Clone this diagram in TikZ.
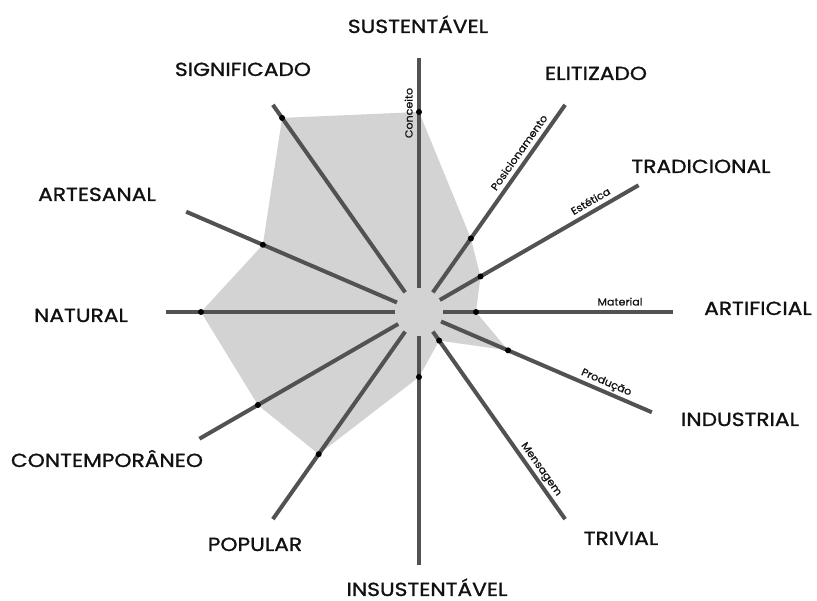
\documentclass[tikz,border=0pt]{standalone}
\usepackage{fontspec}
\setmainfont{Poppins}[FakeStretch=1.15,FakeBold=1.2]
\newfontfamily\smallfam{Poppins}[FakeStretch=1.08,FakeBold=0.8]
\usetikzlibrary{calc}
\definecolor{axisgray}{HTML}{525252}
\definecolor{areagray}{HTML}{D3D3D3}
\definecolor{txt}{HTML}{111111}
\begin{document}
\begin{tikzpicture}[x=1bp,y=1bp,
  axis/.style={draw=axisgray,line width=4bp},
  dot/.style={circle,fill=black,inner sep=0pt,minimum size=6bp},
  pole/.style={font=\fontsize{19}{19}\selectfont,text=txt,anchor=base,inner sep=0pt},
  dimlabel/.style={font=\smallfam\fontsize{10.3}{10.3}\selectfont,text=txt,anchor=base,inner sep=0pt}]
\useasboundingbox (0,0) rectangle (817,601);
\begin{scope}[shift={(419,289)}]
\foreach \n/\a in {S/90, E/54.8, T/30, A/0, I/-23.3, V/-54.8, N/-90, P/-125.2, C/-150, L/180, R/156.7, G/125.2}{
  \coordinate (in\n) at (\a:24);
  \coordinate (out\n) at (\a:253.5);
}
\foreach \n/\a/\r in {S/90/200, E/54.8/90, T/30/71, A/0/57, I/-23.3/97, V/-54.8/35, N/-90/65, P/-125.2/174, C/-150/186, L/180/218, R/156.7/170, G/125.2/237.5}{
  \coordinate (v\n) at (\a:\r);
}
\foreach \n/\a/\d in {S/90/199, E/54.8/188, T/30/204, A/0/201, I/-23.3/200, V/-54.8/199}{
  \coordinate (lab\n) at ($(\a:\d)+(\a+90:6.5)$);
}
\end{scope}
\fill[areagray] (vS) -- (vE) -- (vT) -- (vA) -- (vI) -- (vV) -- (vN) -- (vP) -- (vC) -- (vL) -- (vR) -- (vG) -- cycle;
\foreach \n in {S,E,T,A,I,V,N,P,C,L,R,G}{
  \draw[axis] (in\n) -- (out\n);
}
\foreach \n in {S,E,T,A,I,V,N,P,C,L,R,G}{
  \node[dot] (d\n) at (v\n) {};
}
\node[dimlabel,rotate=90] (tS) at (labS) {Conceito};
\node[dimlabel,rotate=54.8] (tE) at (labE) {Posicionamento};
\node[dimlabel,rotate=30] (tT) at (labT) {Estética};
\node[dimlabel] (tA) at (labA) {Material};
\node[dimlabel,rotate=-23.3] (tI) at (labI) {Produção};
\node[dimlabel,rotate=-54.8] (tV) at (labV) {Mensagem};
\node[pole] (pS) at (418,568) {SUSTENTÁVEL};
\node[pole] (pG) at (243,525) {SIGNIFICADO};
\node[pole] (pE) at (596,521) {ELITIZADO};
\node[pole] (pT) at (701,428) {TRADICIONAL};
\node[pole] (pR) at (97,400) {ARTESANAL};
\node[pole] (pL) at (81,279) {NATURAL};
\node[pole] (pA) at (758,286) {ARTIFICIAL};
\node[pole] (pI) at (740,175) {INDUSTRIAL};
\node[pole] (pC) at (107,134) {CONTEMPORÂNEO};
\node[pole] (pV) at (621,56) {TRIVIAL};
\node[pole] (pP) at (255,50) {POPULAR};
\node[pole] (pN) at (427,5) {INSUSTENTÁVEL};
\end{tikzpicture}
\end{document}
